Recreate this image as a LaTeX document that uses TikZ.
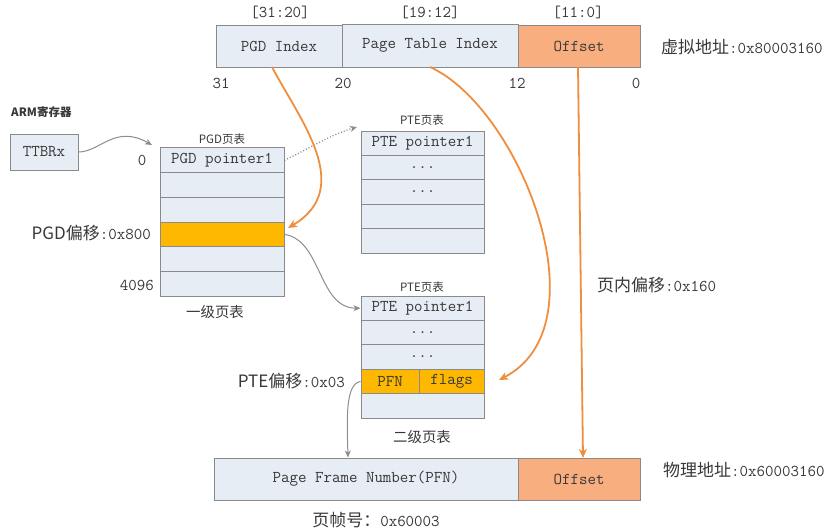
\documentclass[tikz,border=0pt]{standalone}
\usepackage{fontspec}
\newfontfamily\cjk[Scale=1.03]{Noto Sans CJK SC}
\newfontfamily\cjks{Noto Sans CJK SC}
\usetikzlibrary{arrows.meta}
\definecolor{cellfill}{HTML}{E7EDF4}
\definecolor{cellline}{HTML}{8A8A8A}
\definecolor{amber}{HTML}{FFB800}
\definecolor{salmon}{HTML}{F8AE7E}
\definecolor{orangeln}{HTML}{EF8E3E}
\definecolor{grayln}{HTML}{8C8C8C}
\definecolor{txt}{HTML}{383838}
\tikzset{
  cell/.style={draw=cellline, line width=1pt, fill=cellfill, inner sep=0pt, text=txt,
    font=\ttfamily\fontsize{16.5}{18}\selectfont},
  lbl/.style={text=txt, inner sep=0pt, font=\ttfamily\fontsize{16.5}{18}\selectfont},
  small/.style={text=txt, inner sep=0pt, font=\cjks\fontsize{11.5}{13}\selectfont},
  orarrow/.style={draw=orangeln, line width=1.8pt, -{Stealth[length=9pt,width=8pt,inset=2.5pt]}},
  grarrow/.style={draw=grayln, line width=1pt, -{Stealth[length=7pt,width=6pt,inset=2pt]}},
}
\begin{document}
\begin{tikzpicture}[x=1pt,y=-1pt]
\path[use as bounding box] (0,0) rectangle (830,531);

% virtual address bar
\node[cell, minimum width=126pt, minimum height=42pt] (pgdidx) at (279,46) {PGD Index};
\node[cell, minimum width=176pt, minimum height=43pt] (ptidx) at (430,45.5) {Page Table Index};
\node[cell, fill=salmon, minimum width=122pt, minimum height=42pt] (voff) at (579,46) {Offset};
\node[lbl] (b1) at (280,12) {[31:20]};
\node[lbl] (b2) at (430,12) {[19:12]};
\node[lbl] (b3) at (578,12) {[11:0]};
\node[lbl] (n31) at (221,83) {31};
\node[lbl] (n20) at (343,83) {20};
\node[lbl] (n12) at (517,83) {12};
\node[lbl] (n0) at (636,83) {0};
\node[lbl, anchor=west] (va) at (661,47) {{\cjk 虚拟地址}:0x80003160};

% ARM register
\node[small, anchor=west, font=\cjks\bfseries\fontsize{11.5}{13}\selectfont] (arm) at (11,112) {ARM寄存器};
\node[cell, minimum width=68pt, minimum height=36pt] (ttbr) at (44,152) {TTBRx};

% PGD table
\node[small] (pgdt) at (222,139) {PGD页表};
\node[cell, minimum width=124pt, minimum height=24.7pt] (g1) at (222,160.3) {PGD pointer1};
\node[cell, minimum width=124pt, minimum height=24.7pt] (g2) at (222,185.0) {};
\node[cell, minimum width=124pt, minimum height=24.7pt] (g3) at (222,209.7) {};
\node[cell, fill=amber, minimum width=124pt, minimum height=24.7pt] (g4) at (222,234.4) {};
\node[cell, minimum width=124pt, minimum height=24.7pt] (g5) at (222,259.1) {};
\node[cell, minimum width=124pt, minimum height=24.7pt] (g6) at (222,283.8) {};
\node[lbl] (z0) at (142,160) {0};
\node[lbl, anchor=east] (pgdoff) at (151,233) {{\cjk PGD偏移}:0x800};
\node[lbl, anchor=east] (n4096) at (154,285) {4096};
\node[lbl, font=\cjk\fontsize{14}{16}\selectfont] (lvl1) at (215,312) {一级页表};

% PTE table 1
\node[small] (ptet1) at (422,120) {PTE页表};
\node[cell, minimum width=123pt, minimum height=24.4pt] (p1) at (422.5,143.2) {PTE pointer1};
\node[cell, minimum width=123pt, minimum height=24.4pt] (p2) at (422.5,167.6) {...};
\node[cell, minimum width=123pt, minimum height=24.4pt] (p3) at (422.5,192.0) {...};
\node[cell, minimum width=123pt, minimum height=24.4pt] (p4) at (422.5,216.4) {};
\node[cell, minimum width=123pt, minimum height=24.4pt] (p5) at (422.5,240.8) {};

% PTE table 2
\node[small] (ptet2) at (422,287) {PTE页表};
\node[cell, minimum width=123pt, minimum height=24.4pt] (q1) at (422.5,308.2) {PTE pointer1};
\node[cell, minimum width=123pt, minimum height=24.4pt] (q2) at (422.5,332.6) {...};
\node[cell, minimum width=123pt, minimum height=24.4pt] (q3) at (422.5,357.0) {...};
\node[cell, fill=amber, minimum width=58pt, minimum height=24.4pt] (pfn) at (390,381.4) {PFN};
\node[cell, fill=amber, minimum width=65pt, minimum height=24.4pt] (flags) at (451.5,381.4) {flags};
\node[cell, minimum width=123pt, minimum height=24.4pt] (q5) at (422.5,405.8) {};
\node[lbl, font=\cjk\fontsize{14}{16}\selectfont] (lvl2) at (422,437) {二级页表};
\node[lbl, anchor=east] (pteoff) at (345,381) {{\cjk PTE偏移}:0x03};

% physical address bar
\node[cell, minimum width=304pt, minimum height=42pt] (ppfn) at (366,479) {Page Frame Number(PFN)};
\node[cell, fill=salmon, minimum width=122pt, minimum height=42pt] (poff) at (579,479) {Offset};
\node[lbl, anchor=west] (pa) at (663,470) {{\cjk 物理地址}:0x60003160};
\node[lbl] (pfnum) at (376,520) {{\cjk 页帧号：}0x60003};
\node[lbl, anchor=west] (inoff) at (597,285) {{\cjk 页内偏移}:0x160};

% connectors
\coordinate (ttbrend) at (152,145);
\draw[grarrow] (ttbr.east) .. controls (100,152) and (115,124) .. (ttbrend);
\coordinate (dotend) at (357,127);
\draw[grarrow, dotted, line width=1.3pt] (g1.east) .. controls (310,148) and (330,135) .. (dotend);
\draw[grarrow] (g4.east) .. controls (322,240) and (318,308) .. (q1.west);
\coordinate (pfnend) at (348,458);
\draw[grarrow] (pfn.west) .. controls (345,384) and (347,420) .. (ppfn.north -| pfnend);

\coordinate (o1s) at (272,67);
\coordinate (o1e) at (288,228);
\draw[orarrow] (o1s) .. controls (300,120) and (355,188) .. (o1e);
\coordinate (o2s) at (430,67);
\coordinate (o2e) at (499,380);
\draw[orarrow] (o2s) .. controls (520,108) and (605,325) .. (o2e);
\coordinate (o3s) at (578,67);
\coordinate (o3e) at (583,458);
\draw[orarrow] (o3s) -- (o3e);
\end{tikzpicture}
\end{document}
